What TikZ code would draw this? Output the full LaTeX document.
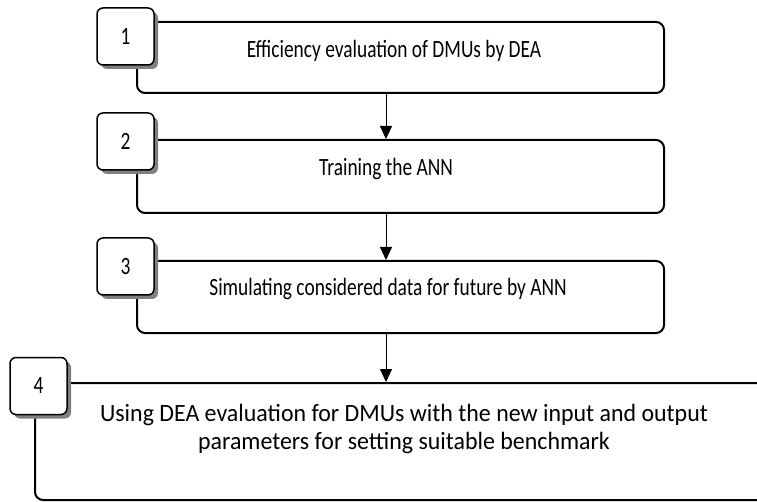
\documentclass[tikz,border=0pt]{standalone}
\usepackage{fontspec}
\setmainfont{Carlito}
\usepackage{graphicx}
\usepackage{xcolor}
\usepackage{tikz}
\usetikzlibrary{arrows.meta,shapes,shadows,positioning}
\definecolor{shadowC}{rgb}{0.5,0.5,0.5}

\begin{document}
\begin{tikzpicture}[x=1pt,y=-1pt,
        font=\fontsize{19.4}{28}\selectfont,
        stepbox/.style={draw,line width=2pt,rounded corners=8pt,inner sep=0pt},
        numbox/.style={draw,fill=white,line width=1.5pt,rounded corners=6pt,
            minimum size=57pt,inner sep=0pt,
            drop shadow={shadow xshift=4pt,shadow yshift=-4pt,fill=shadowC,opacity=1}},
        flow/.style={line width=1pt,-{Triangle[width=12pt,length=13pt]}}]
        \newcommand\tall[1]{\scalebox{1}[1.28]{#1}}
        \newcommand\wide[1]{\scalebox{1}[1.04]{#1}}
        \clip (0,0) rectangle (757,502);
        % step boxes
        \node[stepbox,minimum width=527pt,minimum height=71pt] (b1) at (400.5,57.5) {};
        \node[stepbox,minimum width=527pt,minimum height=73pt] (b2) at (400.5,176.5) {};
        \node[stepbox,minimum width=527pt,minimum height=72pt] (b3) at (400.5,297) {};
        \node[stepbox,minimum width=755pt,minimum height=117pt] (b4) at (412.5,441.5) {};
        % texts
        \node (t1) at (394,51) {\tall{Efficiency evaluation of DMUs by DEA}};
        \node (t2) at (386,169) {\tall{Training the ANN}};
        \node (t3) at (388,289) {\tall{Simulating considered data for future by ANN}};
        \node[align=center,font=\fontsize{23.9}{28}\selectfont] (t4) at (404,429)
            {\wide{Using DEA evaluation for DMUs with the new input and output}\\
            \wide{parameters for setting suitable benchmark}};
        % numbers
        \node[numbox] (n1) at (125.5,36.5) {\tall{1}};
        \node[numbox] (n2) at (125.5,141.5) {\tall{2}};
        \node[numbox] (n3) at (125.5,266.5) {\tall{3}};
        \node[numbox] (n4) at (38.5,386) {\tall{4}};
        % arrows
        \draw[flow] ([xshift=-14.5pt]b1.south) -- ([xshift=-14.5pt]b2.north);
        \draw[flow] ([xshift=-14.5pt]b2.south) -- ([xshift=-14.5pt]b3.north);
        \draw[flow] ([xshift=-14.5pt]b3.south) -- ([xshift=-26.5pt]b4.north);
\end{tikzpicture}
\end{document}
